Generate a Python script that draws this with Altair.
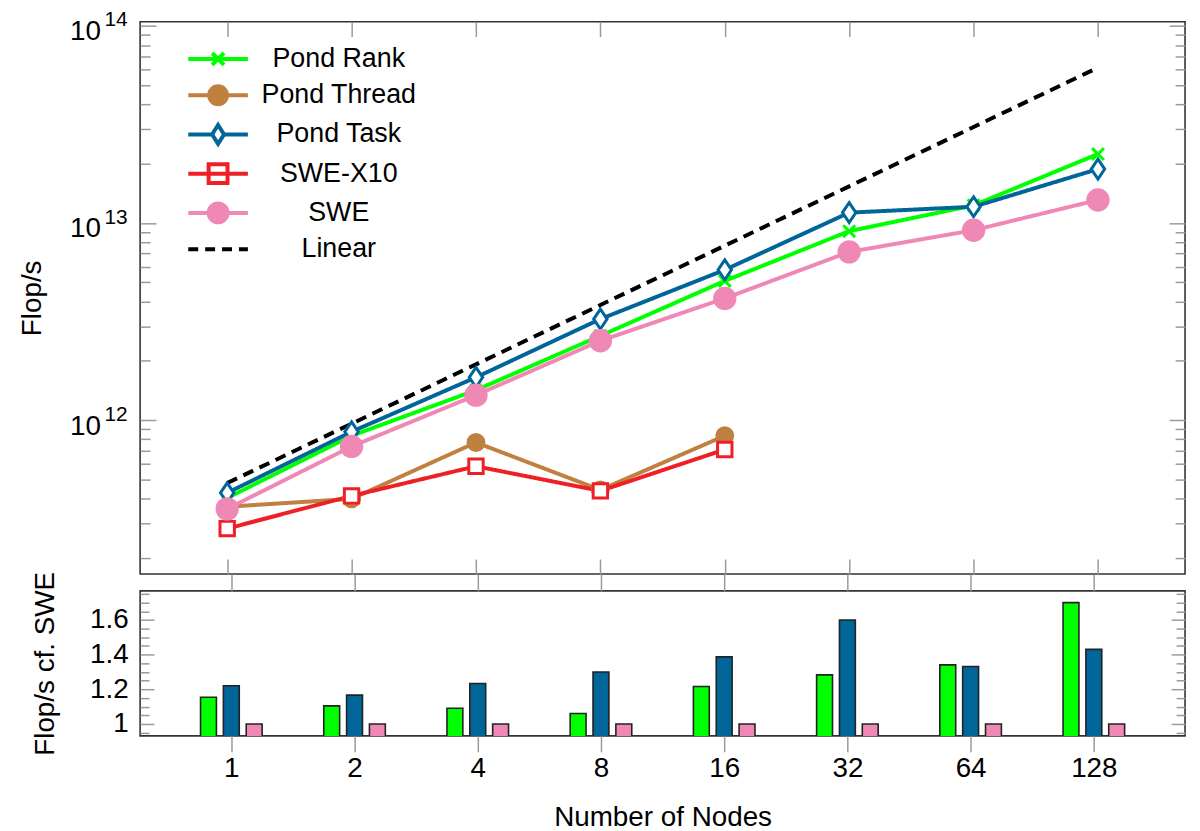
import altair as alt
import pandas as pd

FONT = "Liberation Sans"
TICK = "#9a9a9a"

# ---------------- data ----------------
nodes = [1, 2, 4, 8, 16, 32, 64, 128]
nodes_short = [1, 2, 4, 8, 16]

pond_rank = [4.03e11, 8.34e11, 1.42e12, 2.68e12, 5.09e12, 9.1e12, 1.23e13, 2.24e13]
pond_thread = [3.64e11, 3.99e11, 7.71e11, 4.43e11, 8.34e11]
pond_task = [4.28e11, 8.74e11, 1.65e12, 3.26e12, 5.79e12, 1.13e13, 1.21e13, 1.88e13]
swe_x10 = [2.82e11, 4.13e11, 5.84e11, 4.38e11, 7.10e11]
swe = [3.55e11, 7.36e11, 1.34e12, 2.53e12, 4.15e12, 7.14e12, 9.2e12, 1.31e13]
linear = [4.8e11, 9.6e11, 1.92e12, 3.84e12, 7.68e12, 1.536e13, 3.072e13, 6.144e13]

ratio_rank = [1.154, 1.104, 1.090, 1.060, 1.216, 1.283, 1.341, 1.700]
ratio_task = [1.220, 1.166, 1.233, 1.300, 1.387, 1.600, 1.331, 1.430]
ratio_swe = [1.0, 1.0, 1.0, 1.0, 1.0, 1.0, 1.0, 1.0]

series = ["Pond Rank", "Pond Thread", "Pond Task", "SWE-X10", "SWE", "Linear"]
colors = ["#00ff00", "#c08040", "#006699", "#ee2026", "#f088b6", "#000000"]

top_tick_values = [1e12, 1e13, 1e14]
top_tick_exponents = ["12", "13", "14"]

# ---------------- tables ----------------
rows = []
for name, xs, vals in [
    ("Pond Rank", nodes, pond_rank),
    ("Pond Thread", nodes_short, pond_thread),
    ("Pond Task", nodes, pond_task),
    ("SWE-X10", nodes_short, swe_x10),
    ("SWE", nodes, swe),
    ("Linear", nodes, linear),
]:
    for n, v in zip(xs, vals):
        rows.append({"series": name, "nodes": n, "flops": v})
df = pd.DataFrame(rows)
df_pts = df[df["series"] != "Linear"]

bar_rows = []
for name, vals in [("Pond Rank", ratio_rank), ("Pond Task", ratio_task), ("SWE", ratio_swe)]:
    for n, v in zip(nodes, vals):
        bar_rows.append({"series": name, "nodes": n, "ratio": v})
df_bar = pd.DataFrame(bar_rows)

# ---------------- scales ----------------
W = 1052
H_TOP = 556
H_BOT = 146

x_scale = alt.Scale(type="log", base=2, domain=[2 ** -0.7, 2 ** 7.7], nice=False)
y_top = alt.Scale(type="log", domain=[10 ** 11.22, 10 ** 14.0216], nice=False)
y_bot = alt.Scale(domain=[0.931, 1.768], nice=False, zero=False)

minor_top = [k * 10 ** d for d in (11, 12, 13) for k in range(2, 10)]
major_bot = [1.0, 1.2, 1.4, 1.6]
minor_bot = [0.95, 1.05, 1.1, 1.15, 1.25, 1.3, 1.35, 1.45, 1.5, 1.55, 1.65, 1.7, 1.75]


def tick_axis(orient, values, size):
    return alt.Axis(orient=orient, values=values, labels=False, title=None, domain=False,
                    grid=False, tickSize=size, offset=-size, tickColor=TICK, tickWidth=1.5)


def out_axis(orient, values, size):
    return alt.Axis(orient=orient, values=values, labels=False, title=None, domain=False,
                    grid=False, tickSize=size, tickColor=TICK, tickWidth=1.5)


# exponent lookup expression built from the tick lists
exp_expr = " : ".join(
    f"datum.value > {v / 3:.3g} ? '{e}'" for v, e in zip(reversed(top_tick_values), reversed(top_tick_exponents))
) + " : ''"

# ---------------- top panel ----------------
dash_range = [[1, 0], [1, 0], [1, 0], [1, 0], [1, 0], [11, 7]]
width_range = [4, 4, 4, 4, 4, 4.5]

lines = alt.Chart(df).mark_line().encode(
    x=alt.X("nodes:Q", scale=x_scale, axis=tick_axis("bottom", nodes, 15)),
    y=alt.Y("flops:Q", scale=y_top,
            axis=alt.Axis(orient="left", values=top_tick_values, title="Flop/s", ticks=False, tickSize=0,
                          domain=False, grid=False, labelPadding=40, titlePadding=23,
                          labelFlush=False, labelOverlap=False, labelOffset=6,
                          labelExpr="'10'")),
    stroke=alt.Stroke("series:N", scale=alt.Scale(domain=series, range=colors), legend=None),
    strokeDash=alt.StrokeDash("series:N", scale=alt.Scale(domain=series, range=dash_range), legend=None),
    strokeWidth=alt.StrokeWidth("series:N", scale=alt.Scale(domain=series, range=width_range), legend=None),
    order=alt.Order("nodes:Q"),
)

pt_shapes = [
    "M-1.2,-1.2L1.2,1.2M-1.2,1.2L1.2,-1.2",
    "M-1.6,0A1.6,1.6,0,1,1,1.6,0A1.6,1.6,0,1,1,-1.6,0Z",
    "M0,-2L1.35,0L0,2L-1.35,0Z",
    "M-1.45,-1.45L1.45,-1.45L1.45,1.45L-1.45,1.45Z",
    "M-2.05,0A2.05,2.05,0,1,1,2.05,0A2.05,2.05,0,1,1,-2.05,0Z",
]
pt_fills = ["#00ff00", "#c08040", "#ffffff", "#ffffff", "#f088b6"]

points = alt.Chart(df_pts).mark_point(filled=True, size=100, strokeWidth=3, opacity=1).encode(
    x=alt.X("nodes:Q", scale=x_scale, axis=None),
    y=alt.Y("flops:Q", scale=y_top, axis=None),
    shape=alt.Shape("series:N", scale=alt.Scale(domain=series[:5], range=pt_shapes), legend=None),
    fill=alt.Fill("series:N", scale=alt.Scale(domain=series[:5], range=pt_fills), legend=None),
    stroke=alt.Stroke("series:N", scale=alt.Scale(domain=series[:5], range=colors[:5]), legend=None),
)

lg_shapes = [
    "M-3,0L3,0M-0.6,-0.6L0.6,0.6M-0.6,0.6L0.6,-0.6",
    "M-3,0L-0.9,0M0.9,0L3,0M-0.9,0A0.9,0.9,0,1,1,0.9,0A0.9,0.9,0,1,1,-0.9,0Z",
    "M-3,0L-0.6,0M0.6,0L3,0M0,-0.95L0.6,0L0,0.95L-0.6,0Z",
    "M-3,0L3,0M-0.95,-0.95L0.95,-0.95L0.95,0.95L-0.95,0.95Z",
    "M-3,0L-0.95,0M0.95,0L3,0M-0.95,0A0.95,0.95,0,1,1,0.95,0A0.95,0.95,0,1,1,-0.95,0Z",
    "M-3,0L-2,0M-1.3,0L-0.3,0M0.4,0L1.4,0M2.1,0L3,0",
]
lg_fills = ["#00ff00", "#c08040", "#ffffff", "#ffffff", "#f088b6", "#000000"]

legend = alt.Legend(title=None, orient="none", legendX=65, legendY=24, symbolSize=400,
                    symbolStrokeWidth=4, labelFontSize=27, labelFont=FONT, labelColor="black",
                    labelAlign="center", labelOffset=108, rowPadding=4.5, padding=0,
                    labelLimit=400, symbolOpacity=1)

legend_layer = alt.Chart(df).mark_point(filled=True, opacity=0, strokeWidth=4).encode(
    x=alt.X("nodes:Q", scale=x_scale, axis=None),
    y=alt.Y("flops:Q", scale=y_top, axis=None),
    shape=alt.Shape("series:N", scale=alt.Scale(domain=series, range=lg_shapes), legend=legend),
    fill=alt.Fill("series:N", scale=alt.Scale(domain=series, range=lg_fills), legend=legend),
    stroke=alt.Stroke("series:N", scale=alt.Scale(domain=series, range=colors), legend=legend),
)


def axis_layer(data, field, yscale, x_axis, y_axis):
    return alt.Chart(data).mark_point(opacity=0).encode(
        x=alt.X("nodes:Q", scale=x_scale, axis=x_axis),
        y=alt.Y(field, scale=yscale, axis=y_axis),
    )


exp_axis = alt.Axis(orient="left", values=top_tick_values, title=None, ticks=False, tickSize=0,
                    domain=False, grid=False, labelPadding=13, labelFontSize=21,
                    labelFlush=False, labelOverlap=False, labelOffset=-6, labelExpr=exp_expr)

top_axes = [
    axis_layer(df, "flops:Q", y_top, None, exp_axis),
    axis_layer(df, "flops:Q", y_top, tick_axis("top", nodes, 15), tick_axis("left", top_tick_values, 16)),
    axis_layer(df, "flops:Q", y_top, None, tick_axis("left", minor_top, 10)),
    axis_layer(df, "flops:Q", y_top, None, tick_axis("right", top_tick_values, 16)),
    axis_layer(df, "flops:Q", y_top, None, tick_axis("right", minor_top, 10)),
]

top = alt.layer(lines, points, legend_layer, *top_axes).resolve_scale(
    stroke="independent", fill="independent", shape="independent"
).resolve_axis(x="independent", y="independent").properties(width=W, height=H_TOP)

# ---------------- bottom panel ----------------
bar_colors = {"Pond Rank": "#00ff00", "Pond Task": "#006699", "SWE": "#f088b6"}
offsets = {"Pond Rank": -23, "Pond Task": 0, "SWE": 23}

bar_layers = []
for i, name in enumerate(["Pond Rank", "Pond Task", "SWE"]):
    if i == 0:
        xa = alt.Axis(orient="bottom", values=nodes, title="Number of Nodes", domain=False, grid=False,
                      tickSize=16, tickColor=TICK, tickWidth=1.5, labelPadding=3, titlePadding=21,
                      labelFlush=False, labelOverlap=False, format="d")
        ya = alt.Axis(orient="left", values=major_bot, title="Flop/s cf.  SWE", ticks=False, tickSize=0,
                      domain=False, grid=False, labelPadding=12, titlePadding=30, labelFlush=False,
                      labelOverlap=False,
                      labelExpr="datum.value == 1 ? '1' : format(datum.value, '.1f')")
    else:
        xa = None
        ya = None
    bar_layers.append(
        alt.Chart(df_bar[df_bar["series"] == name]).mark_bar(
            width=16, xOffset=offsets[name], color=bar_colors[name], stroke="#222222",
            strokeWidth=1.6, clip=True
        ).encode(
            x=alt.X("nodes:Q", scale=x_scale, axis=xa),
            y=alt.Y("ratio:Q", scale=y_bot, axis=ya),
        )
    )

bot_axes = [
    axis_layer(df_bar, "ratio:Q", y_bot, out_axis("top", nodes, 17), tick_axis("left", major_bot, 14)),
    axis_layer(df_bar, "ratio:Q", y_bot, None, tick_axis("left", minor_bot, 9)),
    axis_layer(df_bar, "ratio:Q", y_bot, None, tick_axis("right", major_bot, 14)),
    axis_layer(df_bar, "ratio:Q", y_bot, None, tick_axis("right", minor_bot, 9)),
]

bottom = alt.layer(*bar_layers, *bot_axes).resolve_axis(
    x="independent", y="independent"
).properties(width=W, height=H_BOT)

chart = alt.vconcat(top, bottom, spacing=17, bounds="flush").properties(
    padding={"left": 10, "top": -3, "right": 5, "bottom": 0}
).configure_view(stroke="#333333", strokeWidth=1.6).configure_axis(
    labelFont=FONT, titleFont=FONT, labelFontSize=28, titleFontSize=28,
    labelColor="black", titleColor="black", titleFontWeight="normal", grid=False
)

chart.save("out.html", embed_options={"renderer": "svg", "actions": False})
